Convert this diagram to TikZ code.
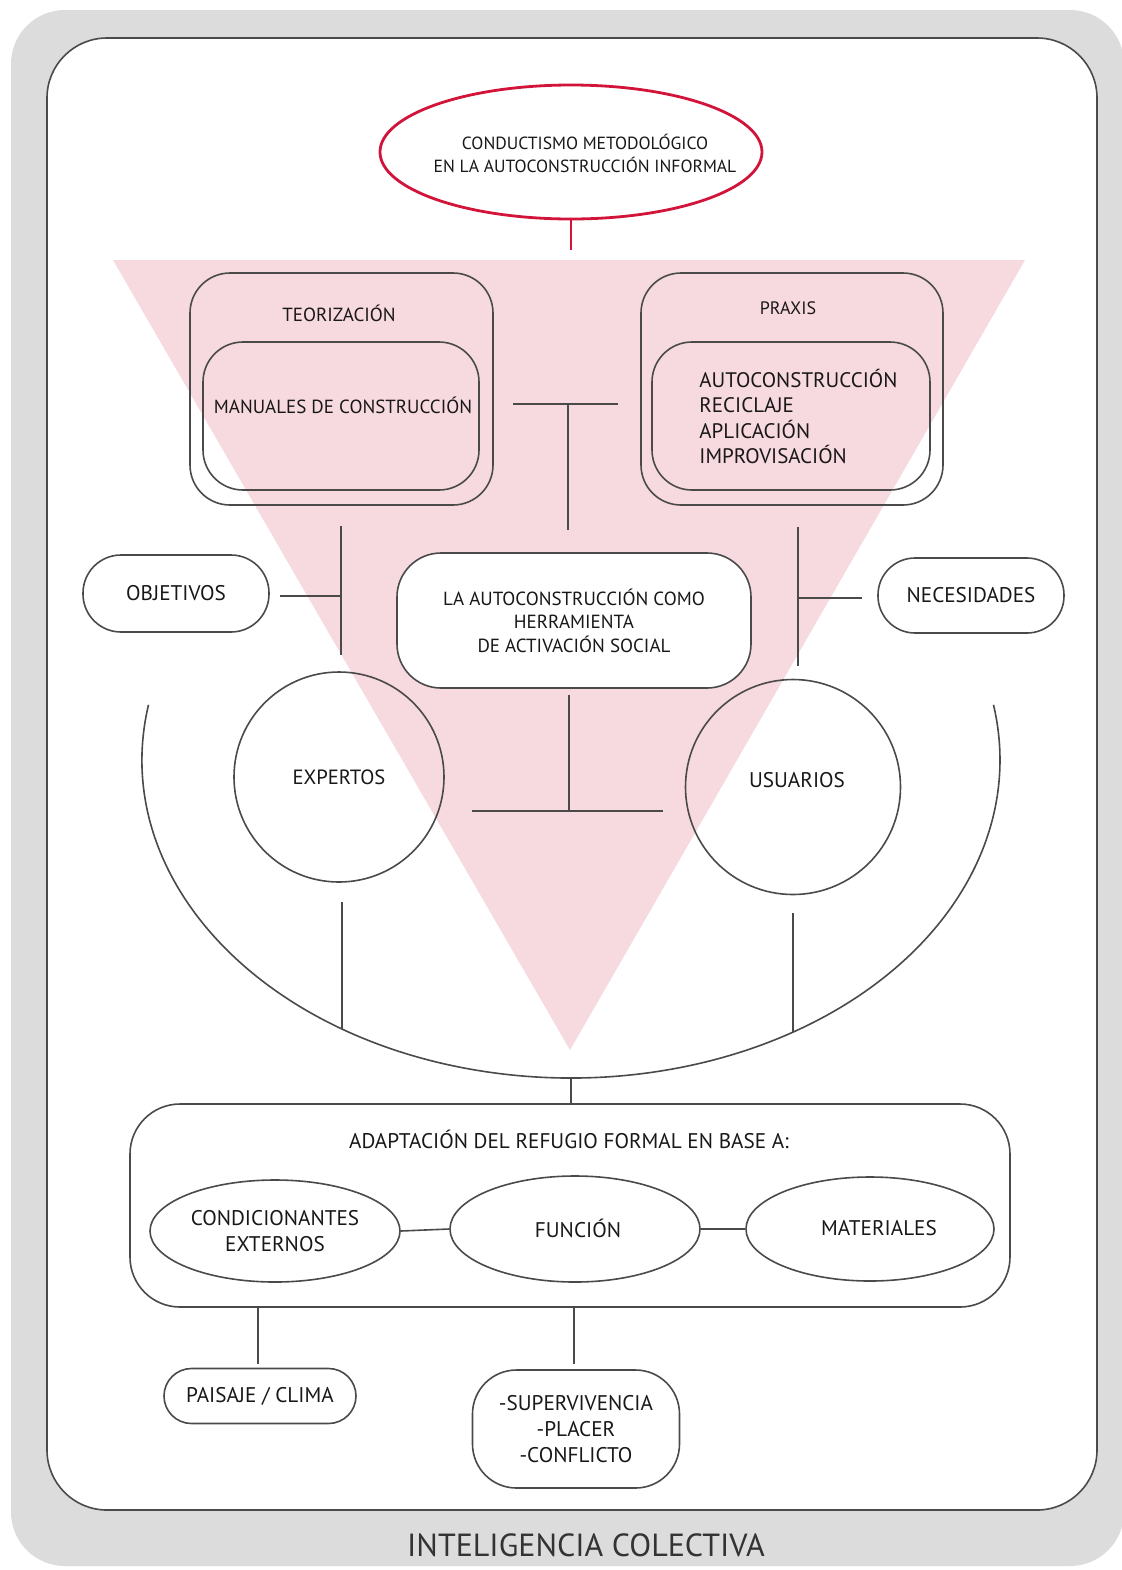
\documentclass[tikz,border=0pt]{standalone}
\usepackage{fontspec}
\setmainfont{PT Sans}
\usetikzlibrary{shapes.geometric}
\definecolor{framecol}{HTML}{DCDCDC}
\definecolor{pinkcol}{HTML}{F6DADF}
\definecolor{redcol}{HTML}{D2143A}
\definecolor{lncol}{HTML}{4A4A4A}
\definecolor{txt}{HTML}{1A1718}
\begin{document}
\begin{tikzpicture}[x=0.5pt,y=-0.5pt,
  every node/.style={text=txt, font=\fontsize{8.5}{11.5}\selectfont, align=center, inner sep=0pt},
  ln/.style={draw=lncol, line width=0.8pt},
  rbox/.style={ln, rectangle, rounded corners=#1},
  roundel/.style={ln, ellipse},
  rcirc/.style={ln, circle},
  fa/.style={font=\fontsize{8.8}{11.5}\selectfont},
  fb/.style={font=\fontsize{9.5}{11.75}\selectfont},
  fc/.style={font=\fontsize{10.6}{12.5}\selectfont},
  fd/.style={font=\fontsize{10.6}{13}\selectfont},
  bigfont/.style={font=\fontsize{10.5}{12.8}\selectfont},
]
\useasboundingbox (0,0) rectangle (1121,1570);
\fill[white] (0,0) rectangle (1121,1570);
% frame
\fill[framecol, rounded corners=27pt] (11,10) rectangle (1124,1566);
\filldraw[fill=white, ln, rounded corners=30pt] (47,38) rectangle (1097,1510);
% pink triangle
\fill[pinkcol] (113,260) -- (1025,260) -- (570,1050) -- cycle;

% top ellipse
\node[ellipse, draw=redcol, line width=1.4pt, fill=white, minimum width=191pt, minimum height=67pt] (cond) at (571,152) {};
\node[fa] (condT) at (585,153) {CONDUCTISMO METODOLÓGICO\\EN LA AUTOCONSTRUCCIÓN INFORMAL};
\coordinate (redEnd) at (571,250);
\draw[draw=redcol, line width=1.4pt] (cond.south) -- (redEnd);

% teorizacion
\node[rbox=20pt, minimum width=151.5pt, minimum height=116pt] (teor) at (341.5,389) {};
\node[fb] (teorT) at (339,313) {TEORIZACIÓN};
\node[rbox=20pt, minimum width=138pt, minimum height=74pt] (manual) at (341,416) {};
\node[fb] (manualT) at (343,405) {MANUALES DE CONSTRUCCIÓN};

% praxis
\node[rbox=20pt, minimum width=151pt, minimum height=116pt] (praxis) at (792,389) {};
\node[font=\fontsize{9}{11}\selectfont] (praxisT) at (788,308) {PRAXIS};
\node[rbox=20pt, minimum width=139pt, minimum height=74pt] (praxisIn) at (791,416) {};
\node[bigfont, align=left, anchor=west] (praxisL) at (699,416.5) {AUTOCONSTRUCCIÓN\\RECICLAJE\\APLICACIÓN\\IMPROVISACIÓN};

% central upper T
\coordinate (tL) at (513,404);
\coordinate (tR) at (618,404);
\coordinate (tTop) at (568,404);
\coordinate (tBot) at (568,530);
\draw[ln] (tL) -- (tR);
\draw[ln] (tTop) -- (tBot);

% central box
\node[rbox=22pt, fill=white, minimum width=177pt, minimum height=67.5pt, fb] (auto) at (574,620.5) {LA AUTOCONSTRUCCIÓN COMO\\HERRAMIENTA\\DE ACTIVACIÓN SOCIAL};

% objetivos / necesidades
\node[rbox=19pt, minimum width=93pt, minimum height=38.5pt, fc] (obj) at (176,593.5) {OBJETIVOS};
\node[rbox=18.5pt, minimum width=93pt, minimum height=37.5pt, fc] (nec) at (971,595.5) {NECESIDADES};

\coordinate (lvTop) at (341,526);
\coordinate (lvBot) at (341,655);
\coordinate (lh) at (341,596);
\coordinate (lhEnd) at (280,596);
\draw[ln] (lvTop) -- (lvBot);
\draw[ln] (lhEnd) -- (lh);

\coordinate (rvTop) at (798,527);
\coordinate (rvBot) at (798,666);
\coordinate (rh) at (798,598);
\coordinate (rhEnd) at (862,598);
\draw[ln] (rvTop) -- (rvBot);
\draw[ln] (rh) -- (rhEnd);

% circles
\node[rcirc, minimum size=105pt, font=\fontsize{10.3}{12}\selectfont] (exp) at (339,777) {EXPERTOS};
\node[rcirc, minimum size=107.5pt] (usu) at (793,787) {};
\node[fc] (usuT) at (797,780) {USUARIOS};

% lower T
\coordinate (dTop) at (569,695);
\coordinate (dBot) at (569,811);
\coordinate (dL) at (472,811);
\coordinate (dR) at (663,811);
\draw[ln] (dTop) -- (dBot);
\draw[ln] (dL) -- (dR);

% big arc
\coordinate (arcS) at (148.5,704.8);
\draw[ln] (arcS) arc[start angle=190, end angle=-10, x radius=429, y radius=318];
\coordinate (arcL) at (342,1029);
\coordinate (arcR) at (793,1033);
\coordinate (arcB) at (571,1078);
\coordinate (eBot) at (342,902);
\coordinate (uBot) at (793,913);
\draw[ln] (eBot) -- (arcL);
\draw[ln] (uBot) -- (arcR);

% adaptation box
\node[rbox=25pt, minimum width=440pt, minimum height=101.5pt] (adapt) at (570,1205.5) {};
\coordinate (adTop) at (571,1104);
\draw[ln] (arcB) -- (adTop);
\node[fc] (adaptT) at (569,1139) {ADAPTACIÓN DEL REFUGIO FORMAL EN BASE A:};

\node[roundel, minimum width=125pt, minimum height=51pt, fd] (e1) at (275,1231) {CONDICIONANTES\\EXTERNOS};
\node[roundel, minimum width=125pt, minimum height=53pt] (e2) at (575,1229) {};
\node[fc] (e2T) at (578,1228) {FUNCIÓN};
\node[roundel, minimum width=124pt, minimum height=52pt] (e3) at (870,1229) {};
\node[fc] (e3T) at (879,1228) {MATERIALES};
\draw[ln] (e1.east) -- (e2.west);
\draw[ln] (e2.east) -- (e3.west);

% bottom
\coordinate (b1Top) at (258,1307);
\coordinate (b1Bot) at (258,1364);
\coordinate (b2Top) at (574,1307);
\coordinate (b2Bot) at (574,1364);
\draw[ln] (b1Top) -- (b1Bot);
\draw[ln] (b2Top) -- (b2Bot);
\node[rbox=13.75pt, minimum width=96pt, minimum height=27.5pt, fc] (pais) at (260,1396) {PAISAJE / CLIMA};
\node[rbox=22pt, minimum width=103.5pt, minimum height=59pt, fd] (sup) at (576,1429) {-SUPERVIVENCIA\\-PLACER\\-CONFLICTO};

\node[font=\fontsize{16}{18}\selectfont, text=black!80] (title) at (586,1545) {INTELIGENCIA COLECTIVA};
\end{tikzpicture}
\end{document}
